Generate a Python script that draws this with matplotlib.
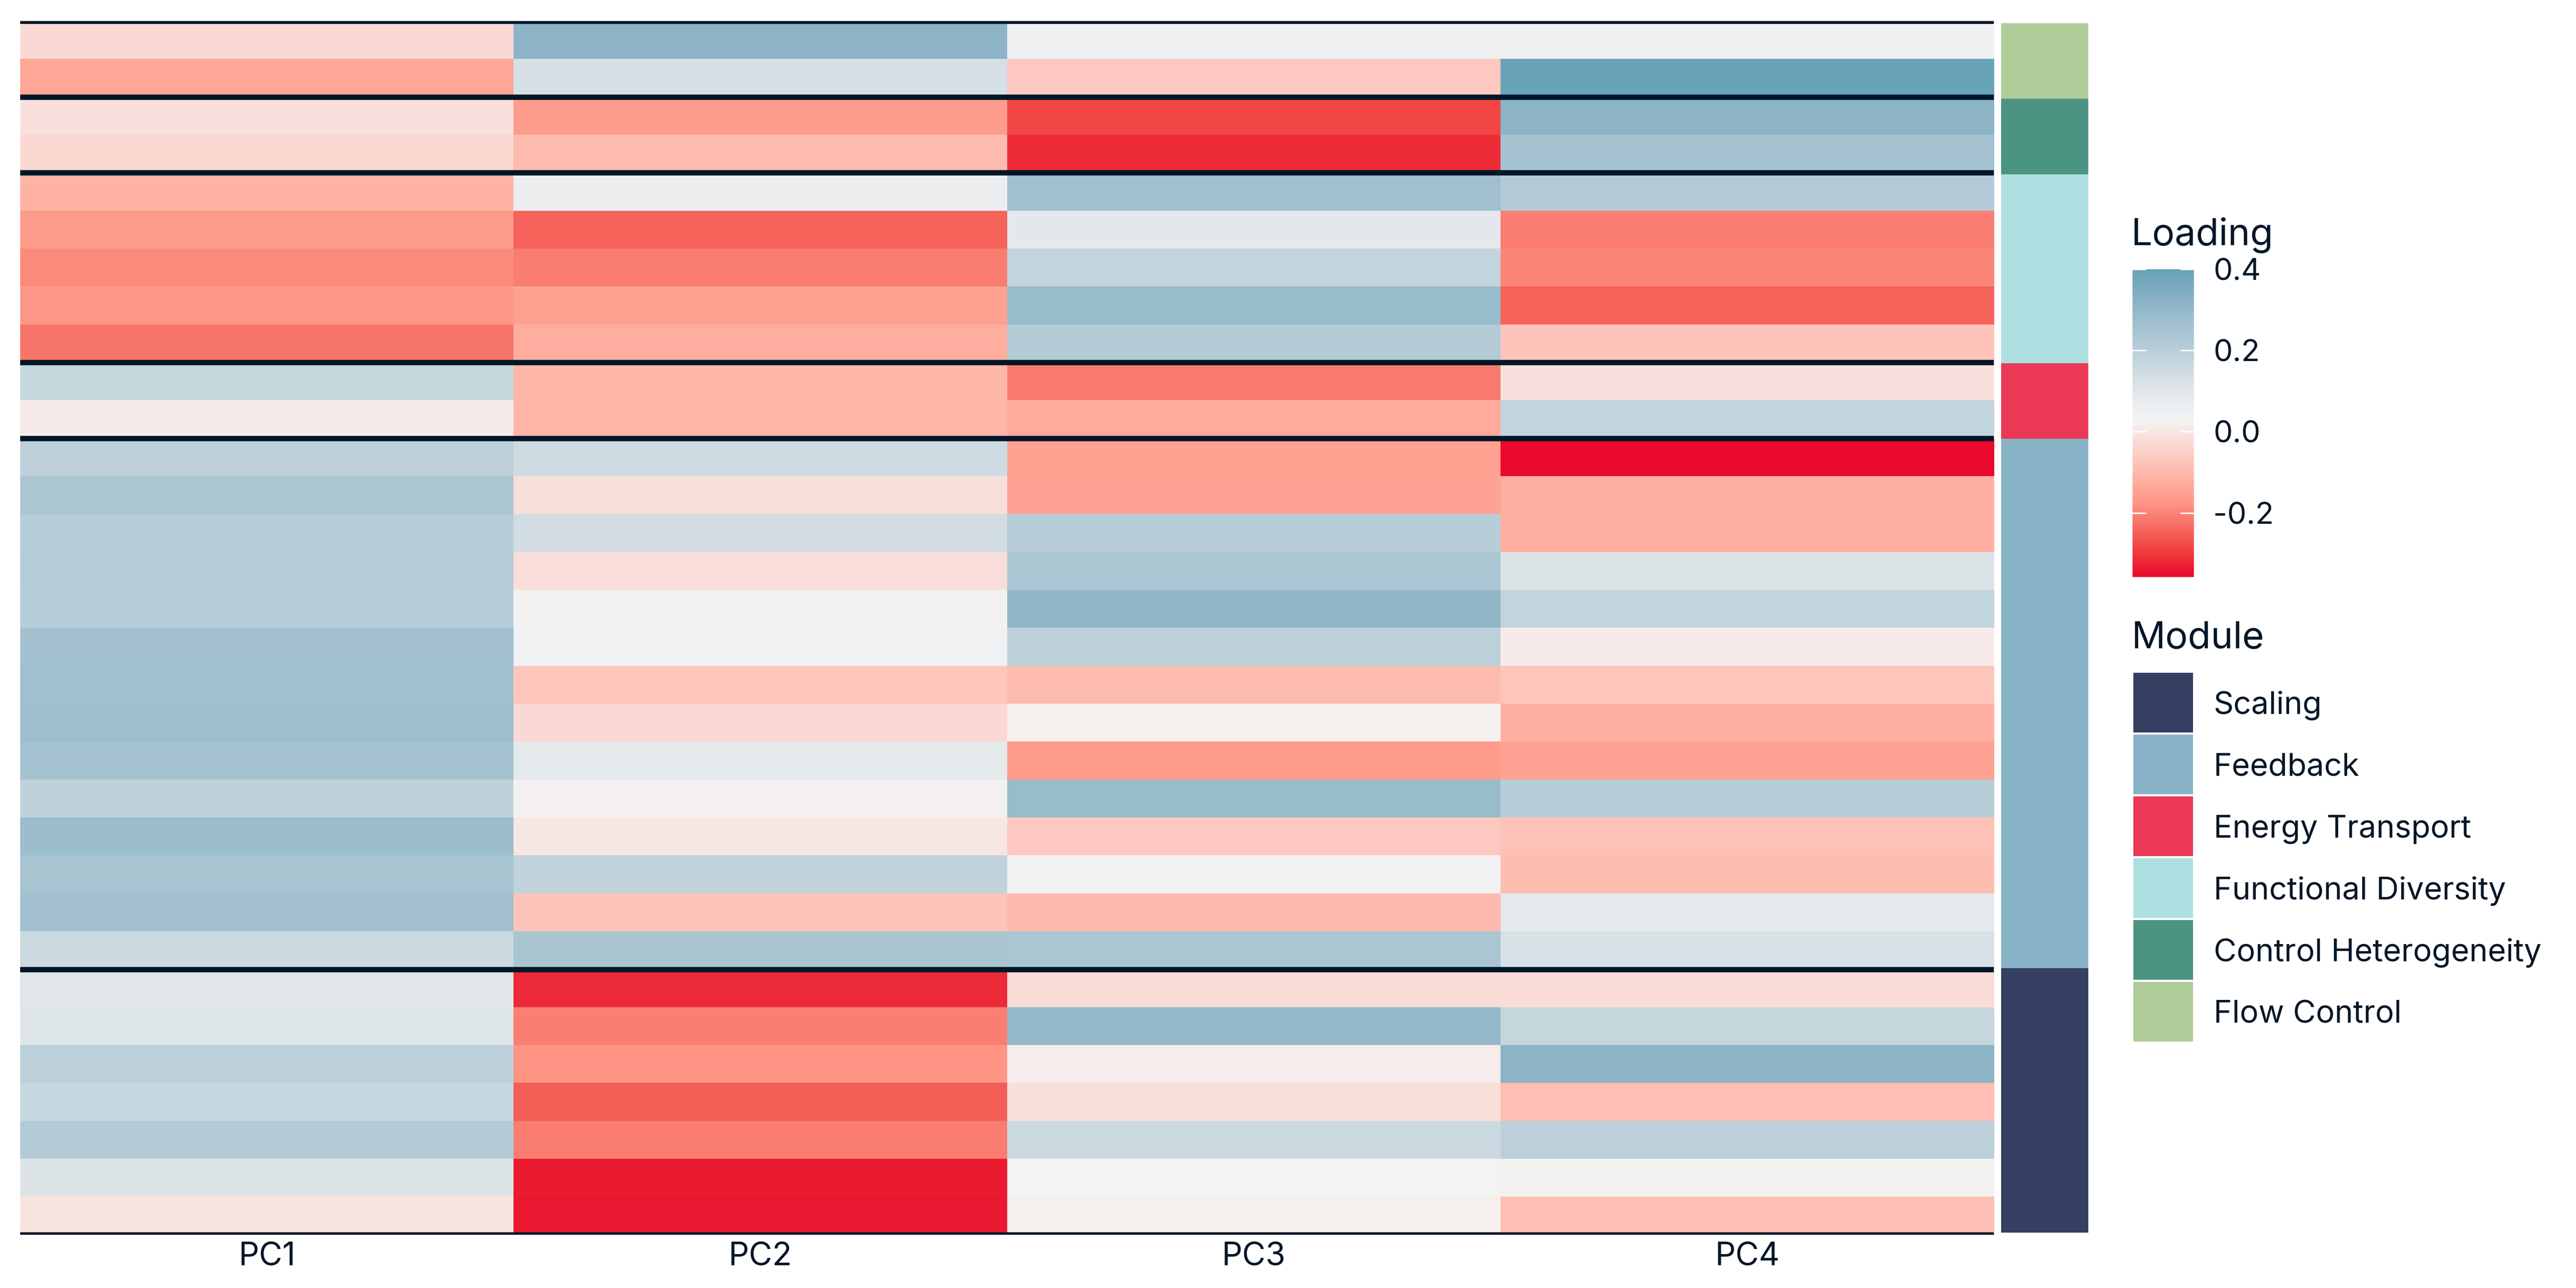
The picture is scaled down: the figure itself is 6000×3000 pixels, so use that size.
import numpy as np
import matplotlib.pyplot as plt
from matplotlib.colors import LinearSegmentedColormap, ListedColormap
from matplotlib.patches import Rectangle

plt.rcParams['font.family'] = ['Inter', 'DejaVu Sans']
ink = '#011627'

pcs = ['PC1', 'PC2', 'PC3', 'PC4']
modules = ['Scaling', 'Feedback', 'Energy Transport', 'Functional Diversity',
           'Control Heterogeneity', 'Flow Control']
module_colors = ['#353F61', '#89B4C7', '#EB3856', '#ADDFE0', '#4B9482', '#B0CC98']

# rows from top to bottom
row_module = (['Flow Control'] * 2 + ['Control Heterogeneity'] * 2 + ['Functional Diversity'] * 5
              + ['Energy Transport'] * 2 + ['Feedback'] * 14 + ['Scaling'] * 7)

pc1 = [-0.028, -0.136, -0.014, -0.032, -0.112, -0.161, -0.191, -0.167, -0.220, 0.162, 0.012,
       0.187, 0.236, 0.204, 0.205, 0.203, 0.259, 0.264, 0.273, 0.253, 0.184, 0.278, 0.245, 0.262, 0.157,
       0.103, 0.106, 0.192, 0.165, 0.214, 0.108, -0.008]
pc2 = [0.314, 0.129, -0.159, -0.093, 0.059, -0.243, -0.209, -0.150, -0.123, -0.106, -0.104,
       0.147, -0.017, 0.137, -0.018, 0.025, 0.044, -0.071, -0.028, 0.084, 0.022, 0.001, 0.182, -0.074, 0.242,
       -0.319, -0.206, -0.176, -0.253, -0.208, -0.336, -0.338]
pc3 = [0.047, -0.067, -0.282, -0.315, 0.264, 0.088, 0.177, 0.284, 0.211, -0.212, -0.129,
       -0.148, -0.147, 0.204, 0.236, 0.303, 0.192, -0.093, 0.020, -0.157, 0.284, -0.065, 0.040, -0.095, 0.236,
       -0.023, 0.291, 0.014, -0.017, 0.157, 0.027, 0.020]
pc4 = [0.046, 0.400, 0.314, 0.253, 0.216, -0.205, -0.197, -0.243, -0.074, -0.014, 0.175,
       -0.358, -0.121, -0.120, 0.113, 0.175, 0.012, -0.071, -0.119, -0.146, 0.204, -0.082, -0.091, 0.081, 0.124,
       -0.023, 0.172, 0.312, -0.088, 0.192, 0.026, -0.084]

loadings = np.column_stack([pc1, pc2, pc3, pc4])
vmin, vmax = loadings.min(), loadings.max()

# gradient
stops = [(0.0, '#E8092C'), (0.019, '#EA1530'), (0.086, '#F0403F'), (0.160, '#F76A60'),
         (0.235, '#FD9383'), (0.310, '#FFAE9F'), (0.384, '#FEC8BF'), (0.459, '#F9E2DE'),
         (0.511, '#F4F4F4'), (0.608, '#E0E6EA'), (0.683, '#CAD9E0'), (0.757, '#B3CBD6'),
         (0.832, '#9FBFCE'), (0.907, '#86B1C3'), (1.0, '#68A3B8')]
cmap = LinearSegmentedColormap.from_list('loading', stops)

fig = plt.figure(figsize=(20, 10), dpi=300)

# heatmap
ax = fig.add_axes([0.00783, 0.04133, 0.7662, 0.9423])
im = ax.imshow(loadings, cmap=cmap, vmin=vmin, vmax=vmax, aspect='auto', interpolation='nearest')
ax.set_xticks(range(len(pcs)))
ax.set_xticklabels(pcs, fontsize=18, color=ink)
ax.tick_params(axis='x', length=0, pad=4)
ax.set_yticks([])
for s in ax.spines.values():
    s.set_visible(False)

# module separators
bounds = [0] + [i for i in range(1, len(row_module)) if row_module[i] != row_module[i - 1]] + [len(row_module)]
for b in bounds:
    ax.axhline(b - 0.5, color=ink, lw=3.0)

# module strip
ax2 = fig.add_axes([0.7768, 0.043, 0.0338, 0.939])
idx = np.array([[modules.index(m)] for m in row_module])
ax2.imshow(idx, cmap=ListedColormap(module_colors), vmin=-0.5, vmax=len(modules) - 0.5,
           aspect='auto', interpolation='nearest')
ax2.axis('off')

# colour bar
cax = fig.add_axes([0.8278, 0.552, 0.0238, 0.239])
cb = fig.colorbar(im, cax=cax)
cb.outline.set_visible(False)
ticks = [-0.2, 0.0, 0.2, 0.4]
cb.set_ticks(ticks)
cb.set_ticklabels(['-0.2', '0.0', '0.2', '0.4'])
cax.tick_params(length=0, pad=11, labelsize=17, colors=ink)
for t in ticks:
    cax.plot([0, 0.21], [t, t], color='white', lw=0.8, transform=cax.get_yaxis_transform())
    cax.plot([0.79, 1], [t, t], color='white', lw=0.8, transform=cax.get_yaxis_transform())
fig.text(0.8272, 0.8097, 'Loading', fontsize=21, color=ink, ha='left', va='baseline')

# module legend
fig.text(0.8274, 0.497, 'Module', fontsize=21, color=ink, ha='left', va='baseline')
key_top = 1567
for i, (m, c) in enumerate(zip(modules, module_colors)):
    top = key_top + i * 144
    fig.add_artist(Rectangle((4969 / 6000, 1 - (top + 139) / 3000), 139 / 6000, 139 / 3000,
                             transform=fig.transFigure, facecolor=c, edgecolor='none'))
    fig.text(5156 / 6000, 1 - (top + 69.5 + 26) / 3000, m, fontsize=17.5, color=ink,
             ha='left', va='baseline')

fig.savefig('out.png', dpi=300, facecolor='white')
